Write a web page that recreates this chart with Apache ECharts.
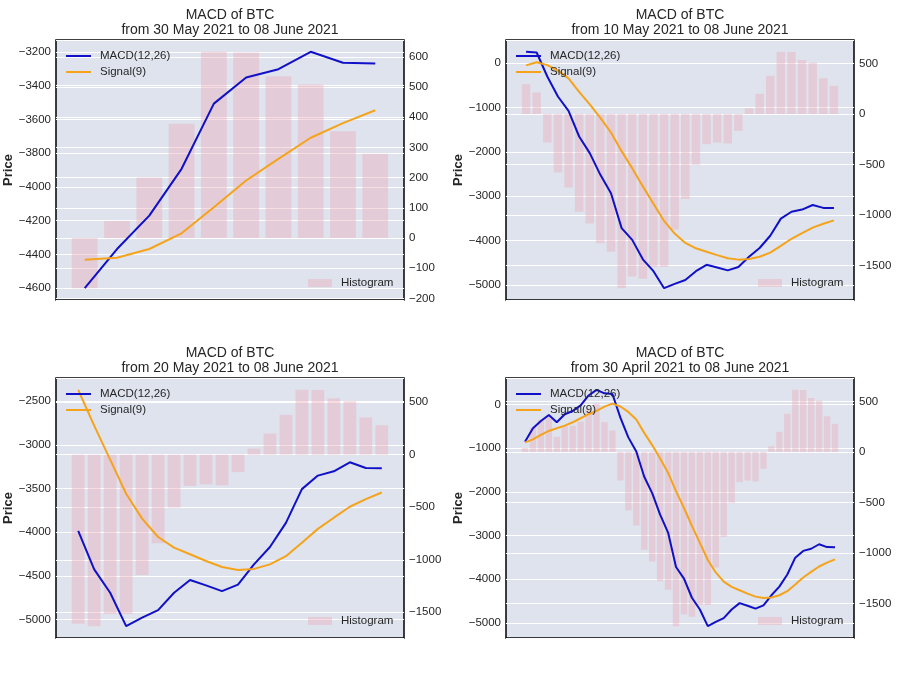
<!DOCTYPE html>
<html>
<head>
<meta charset="utf-8">
<title>MACD of BTC</title>
<script src="https://cdn.jsdelivr.net/npm/echarts@6/dist/echarts.min.js"></script>
<style>
    html, body { margin: 0; padding: 0; background: #fff; }
    #chart { width: 899px; height: 674px; }
</style>
</head>
<body>
<div id="chart"></div>
<script>
// daily values, 30 April 2021 .. 08 June 2021 (40 days)
const macd = [
    -852, -545, -377, -239, -407, -223, -150, -20, 207, 336,
    255, 240, -302, -753, -1076, -1655, -2030, -2520, -2933, -3722,
    -3986, -4425, -4693, -5076, -4979, -4892, -4693, -4548, -4609, -4674,
    -4600, -4368, -4170, -3893, -3507, -3352, -3303, -3200, -3265, -3269
];
const signal = [
    -867, -798, -698, -606, -545, -483, -407, -315, -223, -147,
    -50, 20, -45, -170, -345, -650, -930, -1235, -1565, -1985,
    -2370, -2780, -3170, -3560, -3845, -4055, -4177, -4253, -4330, -4399,
    -4432, -4420, -4368, -4275, -4121, -3962, -3834, -3709, -3622, -3546
];
const histogram = [
    40, 240, 320, 350, 150, 260, 260, 300, 430, 480,
    297, 214, -282, -579, -728, -969, -1085, -1280, -1366, -1726,
    -1610, -1632, -1515, -1515, -1145, -842, -503, -298, -282, -291,
    -166, 57, 201, 379, 617, 615, 536, 509, 354, 279
];

// every subplot shows the last N days
const windowDays = [10, 30, 20, 40];
const windowTitles = [
    'from 30 May 2021 to 08 June 2021',
    'from 10 May 2021 to 08 June 2021',
    'from 20 May 2021 to 08 June 2021',
    'from 30 April 2021 to 08 June 2021'
];

const FONT = '"Liberation Sans", Arial, sans-serif';
const TEXT = '#262626';
const PLOT_BG = '#dee3ee';
const MACD_COLOR = '#1010c8';
const SIGNAL_COLOR = '#f5a31a';
const BAR_COLOR = 'rgba(235,170,180,0.4)';

const boxes = [
    {left: 56, top: 40},
    {left: 506, top: 40},
    {left: 56, top: 378},
    {left: 506, top: 378}
];
const BOX_W = 348, BOX_H = 260;
const leftSplit = [8, 6, 5, 6];
const rightSplit = [8, 5, 5, 5];

// matplotlib style autoscale: 5% margin on both ends
function pad(lo, hi) {
    const d = (hi - lo) * 0.05;
    return [lo - d, hi + d];
}

function fmt(v) {
    return v < 0 ? '\u2212' + (-v) : String(v);
}

function valueAxis(k, pos, ext, split) {
    return {
        type: 'value',
        gridIndex: k,
        position: pos,
        min: ext[0],
        max: ext[1],
        splitNumber: split,
        axisLine: {show: false},
        axisTick: {show: false},
        axisLabel: {
            color: TEXT,
            fontFamily: FONT,
            fontSize: 11.5,
            margin: 5,
            showMinLabel: false,
            showMaxLabel: false,
            formatter: fmt
        },
        splitLine: {show: true, lineStyle: {color: '#ffffff', width: 1.2}}
    };
}

let option = {
    backgroundColor: '#ffffff',
    animation: false,
    title: [],
    legend: [],
    grid: [],
    xAxis: [],
    yAxis: [],
    series: []
};

windowDays.forEach((n, k) => {
    const from = macd.length - n;
    const m = macd.slice(from);
    const s = signal.slice(from);
    const h = histogram.slice(from);
    const box = boxes[k];

    const lineExt = pad(Math.min(...m, ...s), Math.max(...m, ...s));
    const barExt = pad(Math.min(0, ...h), Math.max(0, ...h));
    const half = 0.4 + 0.05 * (n - 0.2);

    option.title.push({
        text: 'MACD of BTC\n' + windowTitles[k],
        left: box.left + BOX_W / 2,
        top: box.top - 33,
        textAlign: 'center',
        padding: 0,
        textStyle: {
            fontFamily: FONT,
            fontSize: 14,
            fontWeight: 'normal',
            color: TEXT,
            lineHeight: 15.5
        }
    });

    option.grid.push({
        left: box.left,
        top: box.top,
        width: BOX_W,
        height: BOX_H,
        show: true,
        backgroundColor: PLOT_BG,
        borderColor: '#000000',
        borderWidth: 1.5,
        containLabel: false
    });

    option.xAxis.push({
        type: 'value',
        gridIndex: k,
        min: -half,
        max: n - 1 + half,
        show: false
    });

    let left = valueAxis(k, 'left', lineExt, leftSplit[k]);
    left.name = 'Price';
    left.nameLocation = 'middle';
    left.nameRotate = 90;
    left.nameGap = 40;
    left.nameTextStyle = {fontFamily: FONT, fontSize: 13, fontWeight: 'bold', color: TEXT};
    option.yAxis.push(left);
    option.yAxis.push(valueAxis(k, 'right', barExt, rightSplit[k]));

    option.series.push({
        name: 'Histogram',
        type: 'bar',
        xAxisIndex: k,
        yAxisIndex: 2 * k + 1,
        barWidth: '80%',
        data: h.map((v, i) => [i, v]),
        itemStyle: {color: BAR_COLOR},
        silent: true,
        z: 1
    });
    option.series.push({
        name: 'MACD(12,26)',
        type: 'line',
        xAxisIndex: k,
        yAxisIndex: 2 * k,
        data: m.map((v, i) => [i, v]),
        symbol: 'none',
        lineStyle: {color: MACD_COLOR, width: 2},
        itemStyle: {color: MACD_COLOR},
        silent: true,
        z: 3
    });
    option.series.push({
        name: 'Signal(9)',
        type: 'line',
        xAxisIndex: k,
        yAxisIndex: 2 * k,
        data: s.map((v, i) => [i, v]),
        symbol: 'none',
        lineStyle: {color: SIGNAL_COLOR, width: 2},
        itemStyle: {color: SIGNAL_COLOR},
        silent: true,
        z: 3
    });

    option.legend.push({
        data: [
            {name: 'MACD(12,26)', icon: 'rect'},
            {name: 'Signal(9)', icon: 'rect'}
        ],
        orient: 'vertical',
        left: box.left + 10,
        top: box.top + 9,
        padding: 0,
        itemWidth: 25,
        itemHeight: 2,
        itemGap: 2,
        selectedMode: false,
        textStyle: {fontFamily: FONT, fontSize: 11.5, lineHeight: 14, color: TEXT, padding: [0, 0, 0, 4]}
    });
    option.legend.push({
        data: [{name: 'Histogram', icon: 'rect'}],
        left: box.left + 252,
        top: box.top + 236,
        padding: 0,
        itemWidth: 24,
        itemHeight: 8,
        selectedMode: false,
        textStyle: {fontFamily: FONT, fontSize: 11.5, lineHeight: 14, color: TEXT, padding: [0, 0, 0, 4]}
    });
});

let chart = echarts.init(document.getElementById('chart'), null, {renderer: 'canvas'});
chart.setOption(option);

window.addEventListener('resize', function () {
    chart.resize();
});
</script>
</body>
</html>
